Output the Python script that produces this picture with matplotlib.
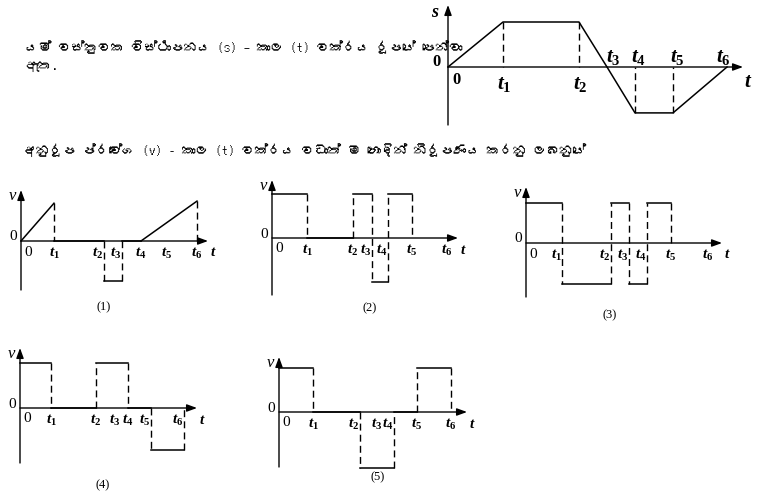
import matplotlib
matplotlib.use('Agg')
import matplotlib.pyplot as plt
from matplotlib import font_manager, ft2font

plt.rcParams['mathtext.fontset'] = 'custom'
plt.rcParams['mathtext.it'] = 'Liberation Serif:bold:italic'
plt.rcParams['mathtext.rm'] = 'Liberation Serif:bold'

W, H = 760, 497

# ---- values ----
line1 = "යම් වස්තුවක විස්ථාපනය (s) – කාල (t) වක්රය රූපයේ පෙන්වා"
line2 = "ඇත."
line3 = "අනුරූප ප්රවේග (v) - කාල (t) වක්රය වඩාත් ම හොඳින් නිරූපණය කරනු ලබනුයේ"

# displacement-time graph: times of 0, t1..t6 and s at each of them
st_times = [0, 55, 131, 159, 187, 225, 279]
st_disp = [0, 1.0, 1.0, 0, -1.02, -1.02, 0]
st_dashed = [1, 2, 4, 5]

# velocity-time options: times of 0, t1..t6, breakpoints of the curve
# (indices into times) and velocity at start / end of every piece
p1_times = [0, 33, 83, 101, 120, 146, 176]
p1_breaks = [0, 1, 2, 3, 4, 6]
p1_v_start = [0, 0, -0.95, 0, 0]
p1_v_end = [0.9, 0, -0.95, 0, 0.95]

p2_times = [0, 35, 81, 100, 116, 140, 175]
p2_breaks = [0, 1, 2, 3, 4, 5]
p2_v_start = [1.05, 0, 1.05, -1.05, 1.05]
p2_v_end = [1.05, 0, 1.05, -1.05, 1.05]

p3_times = [0, 36, 85, 103, 121, 145, 182]
p3_breaks = [0, 1, 2, 3, 4, 5]
p3_v_start = [0.95, -0.98, 0.95, -0.98, 0.95]
p3_v_end = [0.95, -0.98, 0.95, -0.98, 0.95]

p4_times = [0, 31, 76, 95, 108, 131, 164]
p4_breaks = [0, 1, 2, 4, 5, 6]
p4_v_start = [1.07, 0, 1.07, 0, -1.0]
p4_v_end = [1.07, 0, 1.07, 0, -1.0]

p5_times = [0, 34, 81, 98, 115, 138, 172]
p5_breaks = [0, 1, 2, 4, 5, 6]
p5_v_start = [1.05, 0, -1.33, 0, 1.05]
p5_v_end = [1.05, 0, -1.33, 0, 1.05]

t_labels = ['$t_1$', '$t_2$', '$t_3$', '$t_4$', '$t_5$', '$t_6$']
captions = ['(1)', '(2)', '(3)', '(4)', '(5)']


def find_font(ch):
    for f in font_manager.fontManager.ttflist:
        try:
            if ord(ch) in ft2font.FT2Font(f.fname).get_charmap():
                return f.name
        except Exception:
            pass
    return None


sinhala = find_font('ය')
text_family = [sinhala, 'DejaVu Sans'] if sinhala else ['DejaVu Sans']

LW = 1.1
DASH = (5, 3)
fig = plt.figure(figsize=(W / 100, H / 100), dpi=100)


def make_axes(ox, oy, length, above, below, unit):
    ax = fig.add_axes([ox / W, (H - oy - below) / H, length / W, (above + below) / H])
    ax.set_xlim(0, length)
    ax.set_ylim(-below / unit, above / unit)
    ax.axis('off')
    arrow = dict(arrowstyle='-|>,head_length=0.6,head_width=0.22', color='k',
                 lw=1.0, shrinkA=0, shrinkB=0)
    ax.annotate('', xy=(length, 0), xytext=(0, 0), arrowprops=arrow, annotation_clip=False)
    ax.annotate('', xy=(0, above / unit), xytext=(0, -below / unit), arrowprops=arrow,
                annotation_clip=False)
    return ax


def label(ax, txt, x, y, dx, dy, size, **kw):
    ax.annotate(txt, (x, y), xytext=(dx, -dy), textcoords='offset pixels',
                ha='center', va='center', fontsize=size, annotation_clip=False, **kw)


# ---- s-t graph ----
ax = make_axes(448, 67, 295, 62, 58, 45)
ax.plot(st_times, st_disp, 'k-', lw=LW, clip_on=False)
for i in st_dashed:
    ax.plot([st_times[i]] * 2, [st_disp[i], 0], color='k', lw=1.0, dashes=DASH, clip_on=False)
label(ax, r'$s$', 0, 62 / 45, -13, 7, 13)
label(ax, '0', 0, 0, -11, -5, 12, family='Liberation Serif', weight='bold')
label(ax, '0', 0, 0, 9, 13, 12, family='Liberation Serif', weight='bold')
for i, lab in enumerate(t_labels):
    t = st_times[i + 1]
    if i < 2:
        label(ax, lab, t, 0, 1, 17, 15)
    else:
        label(ax, lab, t, 0, [6, 3, 4, -4][i - 2], -10, 15)
label(ax, r'$t$', 295, 0, 5, 14, 15)

# ---- v-t options ----
panels = [
    (p1_times, p1_breaks, p1_v_start, p1_v_end, (21, 241, 187, 51, 49), (104, 307)),
    (p2_times, p2_breaks, p2_v_start, p2_v_end, (272, 238, 186, 58, 57), (370, 308)),
    (p3_times, p3_breaks, p3_v_start, p3_v_end, (526, 243, 196, 56, 54), (610, 315)),
    (p4_times, p4_breaks, p4_v_start, p4_v_end, (20, 408, 177, 60, 55), (103, 485)),
    (p5_times, p5_breaks, p5_v_start, p5_v_end, (279, 412, 188, 55, 55), (378, 477)),
]

for k, (times, breaks, v0, v1, box, cap) in enumerate(panels):
    ox, oy, length, above, below = box
    ax = make_axes(ox, oy, length, above, below, 42)
    T = [times[b] for b in breaks]
    prev = 0
    low = set()
    for i in range(len(v0)):
        ax.plot([T[i], T[i + 1]], [v0[i], v1[i]], 'k-', lw=LW, clip_on=False)
        if i > 0 and v0[i] != prev:
            ax.plot([T[i]] * 2, [prev, v0[i]], color='k', lw=1.0, dashes=DASH, clip_on=False)
            if min(prev, v0[i]) < 0:
                low.add(T[i])
        if v0[i] < 0:
            low.add(T[i + 1])
        prev = v1[i]
    if prev != 0:
        ax.plot([T[-1]] * 2, [prev, 0], color='k', lw=1.0, dashes=DASH, clip_on=False)
    label(ax, 'v', 0, above / 42, -9, 6, 12, family='Liberation Serif', style='italic')
    label(ax, '0', 0, 0, -8, -4, 11, family='Liberation Serif')
    label(ax, '0', 0, 0, 7, 11, 11, family='Liberation Serif')
    for i, lab in enumerate(t_labels):
        t = times[i + 1]
        label(ax, lab, t, 0, -6 if t in low else 0, 12, 11)
    label(ax, '$t$', length, 0, 5, 11, 11)
    fig.text(cap[0] / W, 1 - cap[1] / H, captions[k], ha='center', va='center',
             fontsize=9, family='Liberation Serif')

# ---- question text ----
fig.text(25 / W, 1 - 47 / H, line1, fontsize=9.5, family=text_family, va='center')
fig.text(25 / W, 1 - 66 / H, line2, fontsize=9.5, family=text_family, va='center')
fig.text(23 / W, 1 - 150 / H, line3, fontsize=9.5, family=text_family, va='center')

fig.savefig('out.png', dpi=100)
